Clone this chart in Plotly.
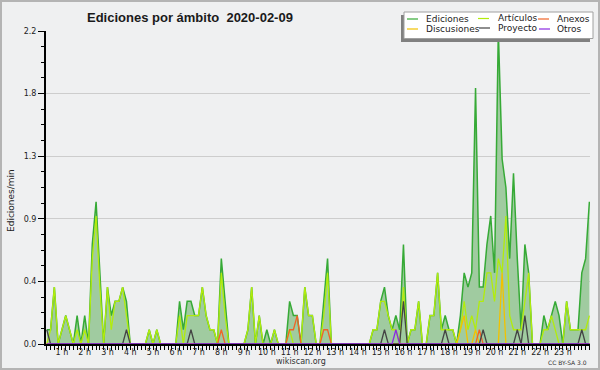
import plotly.graph_objects as go

# ---- data: edits per minute, one value per 10-minute slot (144 slots) ----
ediciones = [
    0.1, 0.1, 0.4, 0, 0.1, 0.2, 0.1, 0, 0.2, 0, 0.2, 0,
    0.7, 1.0, 0.5, 0, 0.4, 0.2, 0.3, 0.3, 0.4, 0.3, 0, 0,
    0, 0, 0, 0.1, 0, 0.1, 0, 0, 0, 0, 0, 0.3,
    0.1, 0.3, 0.3, 0.2, 0.2, 0.4, 0.2, 0.1, 0.1, 0, 0.6, 0.3,
    0, 0, 0, 0, 0, 0.1, 0.4, 0, 0.2, 0, 0.1, 0,
    0.1, 0, 0, 0, 0.3, 0.2, 0.2, 0, 0.4, 0.2, 0.2, 0,
    0, 0.3, 0.6, 0, 0, 0, 0, 0, 0, 0, 0, 0,
    0, 0, 0.1, 0.1, 0.3, 0.4, 0.2, 0.1, 0.2, 0.1, 0.7, 0,
    0.1, 0.1, 0.3, 0, 0, 0.2, 0.2, 0.5, 0.1, 0.2, 0.1, 0.1,
    0, 0.2, 0.5, 0.4, 0.5, 1.8, 0.4, 0.4, 0.7, 0.9, 0.5, 2.2,
    1.3, 1.1, 0.6, 1.2, 0.6, 0.1, 0.7, 0.5, 0, 0, 0, 0.2,
    0.1, 0.2, 0.3, 0.2, 0, 0.3, 0.1, 0.1, 0.1, 0.5, 0.6, 1.0,
]
articulos = [
    0, 0.1, 0.4, 0, 0.1, 0.2, 0.1, 0, 0.1, 0, 0.1, 0,
    0.6, 0.9, 0.4, 0, 0.4, 0.1, 0.3, 0.3, 0.4, 0.2, 0, 0,
    0, 0, 0, 0.1, 0, 0.1, 0, 0, 0, 0, 0, 0.2,
    0, 0.2, 0.2, 0.2, 0.2, 0.4, 0.2, 0.1, 0.1, 0, 0.5, 0.2,
    0, 0, 0, 0, 0, 0.1, 0.4, 0, 0.2, 0, 0, 0,
    0.1, 0, 0, 0, 0.1, 0, 0, 0, 0.4, 0.2, 0.2, 0,
    0, 0.2, 0.5, 0, 0, 0, 0, 0, 0, 0, 0, 0,
    0, 0, 0.1, 0.1, 0.3, 0.3, 0.2, 0.1, 0.1, 0, 0.4, 0,
    0.1, 0.1, 0.3, 0, 0, 0.2, 0.2, 0.5, 0.1, 0.1, 0.1, 0.1,
    0, 0.1, 0.3, 0.1, 0.2, 0.1, 0.3, 0.3, 0.5, 0.5, 0.3, 0.6,
    0.5, 0.9, 0.2, 0.1, 0.1, 0.1, 0.3, 0.5, 0, 0, 0, 0.1,
    0.1, 0.2, 0.1, 0, 0, 0.3, 0.1, 0.1, 0.1, 0.1, 0.1, 0.2,
]
discusiones = [0] * 144
anexos = [0] * 144
proyecto = [0] * 144
otros = [0] * 144
# sparse series: slot -> value
discusiones_pts = {109: 0.1, 110: 0.2, 113: 0.1, 120: 0.5}
anexos_pts = {46: 0.1, 64: 0.1, 65: 0.1, 66: 0.2, 73: 0.1, 74: 0.1, 114: 0.1}
proyecto_pts = {0: 0.1, 21: 0.1, 38: 0.1, 89: 0.1, 94: 0.3, 105: 0.1,
                115: 0.1, 124: 0.1, 126: 0.2, 141: 0.1}
otros_pts = {92: 0.1}
for arr, pts in ((discusiones, discusiones_pts), (anexos, anexos_pts),
                 (proyecto, proyecto_pts), (otros, otros_pts)):
    for k, v in pts.items():
        arr[k] = v

HOUR_LABELS = ["1 h", "2 h", "3 h", "4 h", "5 h", "6 h", "7 h", "8 h", "9 h",
               "10 h", "11 h", "12 h", "13 h", "14 h", "15 h", "16 h", "17 h",
               "18 h", "19 h", "20 h", "21 h", "22 h", "23 h"]
Y_TICK_VALUES = [0, 0.44, 0.88, 1.32, 1.76, 2.2]
Y_TICK_LABELS = ["0.0", "0.4", "0.9", "1.3", "1.8", "2.2"]

SERIES = ["Ediciones", "Artículos", "Anexos", "Discusiones", "Proyecto", "Otros"]
COLORS = {
    "Ediciones": "#36aa36",
    "Artículos": "#b2ec0c",
    "Discusiones": "#f2c200",
    "Anexos": "#f06428",
    "Proyecto": "#444444",
    "Otros": "#8a2be2",
}

N = len(ediciones)
idx = list(range(N))
ticktext = [""] * N
for h, lab in enumerate(HOUR_LABELS, start=1):
    ticktext[6 * h - 2] = lab

fig = go.Figure()
fig.add_trace(go.Scatter(x=idx, y=ediciones, mode="lines", name="Ediciones",
                         line=dict(color=COLORS["Ediciones"], width=1.5),
                         fill="tozeroy", fillcolor="#a0cba0"))
fig.add_trace(go.Scatter(x=idx, y=articulos, mode="lines", name="Artículos",
                         line=dict(color=COLORS["Artículos"], width=1.3)))
fig.add_trace(go.Scatter(x=idx, y=discusiones, mode="lines", name="Discusiones",
                         line=dict(color=COLORS["Discusiones"], width=1.3)))
fig.add_trace(go.Scatter(x=idx, y=anexos, mode="lines", name="Anexos",
                         line=dict(color=COLORS["Anexos"], width=1.3)))
fig.add_trace(go.Scatter(x=idx, y=proyecto, mode="lines", name="Proyecto",
                         line=dict(color=COLORS["Proyecto"], width=1.3)))
fig.add_trace(go.Scatter(x=idx, y=otros, mode="lines", name="Otros",
                         line=dict(color=COLORS["Otros"], width=1.3)))

L, T, W, H = 46, 31, 544, 313


def fx(px):
    return (px - L) / W


def fy(py):
    return (T + H - py) / H


shapes = []
annotations = []
# outer border of the image
shapes.append(dict(type="rect", xref="paper", yref="paper",
                   x0=fx(1), x1=fx(599), y0=fy(1), y1=fy(369),
                   line=dict(color="#b4b4b4", width=2), layer="above"))
# legend shadow + box
shapes.append(dict(type="rect", xref="paper", yref="paper",
                   x0=fx(401), x1=fx(590), y0=fy(15), y1=fy(42),
                   fillcolor="#808080", line=dict(width=0), layer="above"))
shapes.append(dict(type="rect", xref="paper", yref="paper",
                   x0=fx(404), x1=fx(593), y0=fy(12), y1=fy(38.5),
                   fillcolor="#ffffff", line=dict(color="#a0a0a0", width=1),
                   layer="above"))
legend_cells = {
    "Ediciones": (407, 424, 19),
    "Artículos": (478, 496, 18.5),
    "Anexos": (538, 555, 19),
    "Discusiones": (407, 424, 29),
    "Proyecto": (479, 496, 28),
    "Otros": (539, 555, 29),
}
for name in SERIES:
    sx, tx, ty = legend_cells[name]
    shapes.append(dict(type="line", xref="paper", yref="paper",
                       x0=fx(sx), x1=fx(sx + 11), y0=fy(ty), y1=fy(ty),
                       line=dict(color=COLORS[name], width=1.2), layer="above"))
    annotations.append(dict(text=name, xref="paper", yref="paper",
                            x=fx(tx), y=fy(ty), xanchor="left", yanchor="middle",
                            showarrow=False,
                            font=dict(family="DejaVu Sans", size=9, color="#222")))

annotations.append(dict(text="<b>Ediciones por ámbito \u00a02020-02-09</b>",
                        xref="paper", yref="paper", x=fx(85), y=fy(17),
                        xanchor="left", yanchor="middle", showarrow=False,
                        font=dict(family="Liberation Sans", size=13, color="#1a1a1a")))
annotations.append(dict(text="Ediciones/min", xref="paper", yref="paper",
                        x=fx(11), y=fy(201), textangle=-90, showarrow=False,
                        xanchor="center", yanchor="middle",
                        font=dict(family="DejaVu Sans", size=9, color="#222")))
annotations.append(dict(text="wikiscan.org", xref="paper", yref="paper",
                        x=fx(300.5), y=fy(361), showarrow=False,
                        xanchor="center", yanchor="middle",
                        font=dict(family="DejaVu Sans", size=8, color="#333")))
annotations.append(dict(text="CC BY-SA 3.0", xref="paper", yref="paper",
                        x=fx(589), y=fy(362), showarrow=False,
                        xanchor="right", yanchor="middle",
                        font=dict(family="DejaVu Sans", size=6, color="#333")))

fig.update_layout(
    width=600, height=370,
    margin=dict(l=L, r=600 - L - W, t=T, b=370 - T - H, pad=0),
    paper_bgcolor="#eff0f1", plot_bgcolor="#eff0f1",
    showlegend=False,
    shapes=shapes, annotations=annotations,
    xaxis=dict(range=[-0.2, 143.16], tickmode="array", tickvals=idx,
               ticktext=ticktext, ticks="outside", ticklen=4, tickwidth=1,
               tickcolor="black", showline=True, linecolor="black",
               linewidth=2, showgrid=False, zeroline=False,
               ticklabelstandoff=-5, automargin=False,
               tickfont=dict(family="DejaVu Sans", size=8, color="#222")),
    yaxis=dict(range=[0, 2.2], tickmode="array", tickvals=Y_TICK_VALUES,
               ticktext=Y_TICK_LABELS, ticks="outside", ticklen=6,
               tickwidth=1, tickcolor="black", automargin=False,
               minor=dict(ticks="outside", ticklen=3, tickmode="linear",
                          tick0=0, dtick=0.11, tickcolor="black",
                          showgrid=False),
               showgrid=True, gridcolor="#cdcdcd", gridwidth=1,
               showline=True, linecolor="black", linewidth=2,
               zeroline=False,
               tickfont=dict(family="DejaVu Sans", size=8, color="#222")),
)

fig.write_html("out.html",
               config={"displayModeBar": False, "staticPlot": True},
               post_script="document.body.style.margin='0';"
                           "document.body.style.padding='0';"
                           "document.body.style.overflow='hidden';")
